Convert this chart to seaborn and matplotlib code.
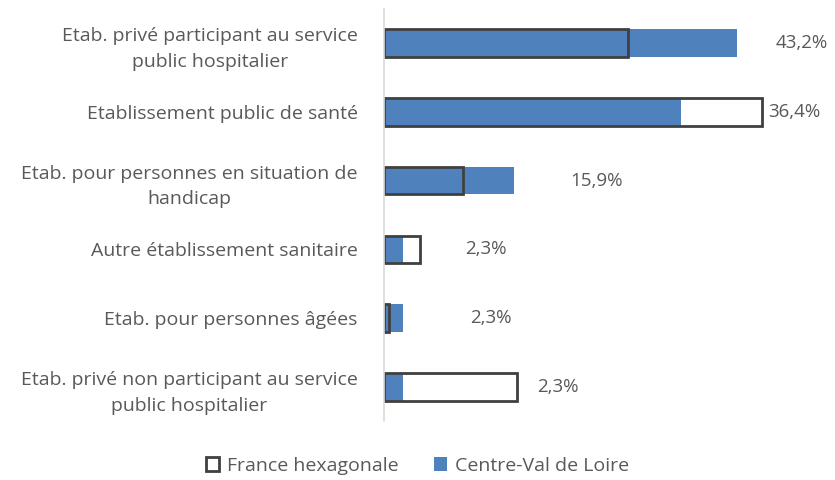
import numpy as np
import pandas as pd
import seaborn as sns
import matplotlib.pyplot as plt
from matplotlib.patches import Patch

# données (en %)
categories = [
    "Etab. privé participant au service\npublic hospitalier",
    "Etablissement public de santé",
    "Etab. pour personnes en situation de\nhandicap",
    "Autre établissement sanitaire",
    "Etab. pour personnes âgées",
    "Etab. privé non participant au service\npublic hospitalier",
]
centre_val_de_loire = [43.2, 36.4, 15.9, 2.3, 2.3, 2.3]
france_hexagonale = [29.9, 46.3, 9.7, 4.4, 0.6, 16.3]
labels = ["43,2%", "36,4%", "15,9%", "2,3%", "2,3%", "2,3%"]

# position horizontale des étiquettes (comme dans Excel, un peu au hasard)
label_x = [47.9, 47.0, 22.8, 9.9, 10.5, 18.8]

blue = "#4F81BD"
dark = "#404040"
grey_txt = "#595959"

sns.set_theme(style="white")
plt.rcParams["font.family"] = ["Open Sans", "DejaVu Sans"]

df = pd.DataFrame({"cat": categories, "cvl": centre_val_de_loire, "fr": france_hexagonale})

fig = plt.figure(figsize=(8.35, 4.8), dpi=100)
ax = fig.add_axes([384 / 835, 0.122, 0.988 - 384 / 835, 0.982 - 0.122])

bw = 0.4
# fond blanc de la France, puis la région, puis le contour France
sns.barplot(data=df, y="cat", x="fr", color="white", width=bw, ax=ax, orient="h",
            edgecolor="none", saturation=1)
sns.barplot(data=df, y="cat", x="cvl", color=blue, width=bw, ax=ax, orient="h",
            edgecolor="none", saturation=1)
sns.barplot(data=df, y="cat", x="fr", fill=False, width=bw, ax=ax, orient="h",
            edgecolor=dark, linewidth=2.0, saturation=1)

for i, (lx, lab) in enumerate(zip(label_x, labels)):
    ax.text(lx, i, lab, ha="left", va="center", fontsize=13.5, color=grey_txt)

ax.set_xlim(0, 54)
ax.set_ylim(5.5, -0.5)
ax.set_xlabel("")
ax.set_ylabel("")
ax.set_xticks([])
for s in ["top", "right", "bottom"]:
    ax.spines[s].set_visible(False)
ax.spines["left"].set_color("#D9D9D9")
ax.spines["left"].set_linewidth(1.2)
ax.tick_params(axis="y", length=0, pad=19)
ax.set_yticks(range(len(categories)))
ax.set_yticklabels(categories, fontsize=14, color=grey_txt, multialignment="center",
                   linespacing=1.55)

handles = [Patch(facecolor="white", edgecolor=dark, linewidth=2.0, label="France hexagonale"),
           Patch(facecolor=blue, edgecolor="none", label="Centre-Val de Loire")]
leg = fig.legend(handles=handles, loc="center", bbox_to_anchor=(0.5, 0.029), ncol=2,
                 frameon=False, fontsize=14, handlelength=0.7, handleheight=0.7,
                 handletextpad=0.4, columnspacing=1.8)
for t in leg.get_texts():
    t.set_color(grey_txt)

fig.savefig("out.png", dpi=100)
